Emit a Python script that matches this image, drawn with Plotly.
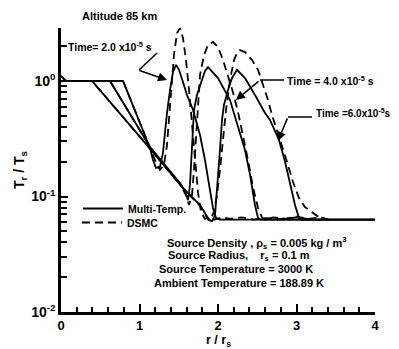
import math
import plotly.graph_objects as go

# ---------------- data ----------------
# Multi-Temperature model, t = 2.0e-5 s
mt2_r = [0.0, 0.79, 1.134, 1.172, 1.21, 1.261, 1.299, 1.325, 1.35, 1.389, 1.427, 1.465,
         1.503, 1.554, 1.605, 1.682, 1.771, 1.834, 1.898, 1.936, 1.975, 2.025, 4.0]
mt2_T = [1.0, 1.0, 0.263, 0.207, 0.177, 0.18, 0.24, 0.36, 0.528, 0.836, 1.20, 1.38,
         1.25, 0.98, 0.757, 0.561, 0.341, 0.207, 0.114, 0.0795, 0.0651, 0.063, 0.063]

# Multi-Temperature model, t = 4.0e-5 s
mt4_r = [0.0, 0.624, 1.134, 1.516, 1.58, 1.618, 1.643, 1.669, 1.694, 1.732, 1.783, 1.834,
         1.873, 2.0, 2.153, 2.229, 2.344, 2.408, 2.471, 2.51, 2.548, 4.0]
mt4_T = [1.0, 1.0, 0.268, 0.131, 0.112, 0.093, 0.126, 0.279, 0.561, 0.757, 0.98, 1.22,
         1.32, 1.06, 0.685, 0.46, 0.253, 0.154, 0.0844, 0.0651, 0.063, 0.063]

# Multi-Temperature model, t = 6.0e-5 s
mt6_r = [0.0, 0.395, 1.134, 1.554, 1.771, 1.834, 1.873, 1.924, 1.962, 2.0, 2.025, 2.051,
         2.076, 2.127, 2.178, 2.242, 2.344, 2.471, 2.599, 2.662, 2.777, 2.854, 2.917,
         2.981, 3.032, 3.07, 4.0]
mt6_T = [1.0, 1.0, 0.26, 0.118, 0.0844, 0.072, 0.063, 0.0613, 0.069, 0.139, 0.253, 0.46,
         0.62, 0.836, 1.06, 1.25, 1.06, 0.757, 0.528, 0.46, 0.309, 0.20, 0.126,
         0.0844, 0.0651, 0.063, 0.063]

# DSMC, t = 2.0e-5 s
ds2_r = [0.0, 0.064, 0.79, 1.134, 1.197, 1.261, 1.312, 1.35, 1.376, 1.401, 1.439, 1.478,
         1.516, 1.554, 1.592, 1.631, 1.669, 1.707, 1.745, 1.783, 1.834, 1.88, 1.95,
         2.05, 2.15, 2.3, 2.45, 2.6, 2.8, 3.0, 3.2, 3.35]
ds2_T = [1.1, 1.0, 1.0, 0.263, 0.207, 0.17, 0.187, 0.279, 0.46, 0.836, 1.68, 2.6,
         2.88, 2.36, 1.52, 0.836, 0.416, 0.207, 0.109, 0.0736, 0.064, 0.066, 0.063,
         0.066, 0.064, 0.066, 0.063, 0.065, 0.064, 0.066, 0.063, 0.063]

# DSMC, t = 4.0e-5 s
ds4_r = [0.0, 0.064, 0.624, 1.134, 1.516, 1.592, 1.631, 1.669, 1.694, 1.72, 1.745, 1.771,
         1.822, 1.873, 1.936, 2.0, 2.064, 2.127, 2.191, 2.255, 2.318, 2.382, 2.446,
         2.51, 2.561, 2.599, 2.7, 2.85, 3.0, 3.15, 3.3, 3.4]
ds4_T = [1.1, 1.0, 1.0, 0.268, 0.128, 0.103, 0.0844, 0.103, 0.17, 0.341, 0.685, 1.13,
         1.68, 2.05, 2.18, 1.97, 1.52, 1.13, 0.80, 0.54, 0.341, 0.207, 0.12,
         0.0795, 0.066, 0.063, 0.066, 0.064, 0.067, 0.064, 0.066, 0.063]

# DSMC, t = 6.0e-5 s
ds6_r = [0.0, 0.064, 0.395, 1.134, 1.554, 1.771, 1.847, 1.898, 1.949, 1.987, 2.025, 2.064,
         2.102, 2.153, 2.204, 2.242, 2.28, 2.344, 2.433, 2.51, 2.573, 2.637, 2.688,
         2.752, 2.815, 2.879, 2.955, 3.032, 3.108, 3.185, 3.261, 3.338, 3.389, 3.42]
ds6_T = [1.1, 1.0, 1.0, 0.26, 0.118, 0.083, 0.069, 0.0617, 0.074, 0.103, 0.17, 0.309,
         0.561, 1.02, 1.52, 1.75, 1.85, 1.78, 1.52, 1.25, 0.923, 0.685, 0.508,
         0.377, 0.279, 0.20, 0.134, 0.097, 0.081, 0.0736, 0.068, 0.0651, 0.063, 0.063]

y_major_vals = [0.01, 0.1, 1.0]
y_major_text = ["10<sup>-2</sup>", "10<sup>-1</sup>", "10<sup>0</sup>"]
y_minor_vals = [0.02, 0.03, 0.04, 0.05, 0.06, 0.07, 0.08, 0.09,
                0.2, 0.3, 0.4, 0.5, 0.6, 0.7, 0.8, 0.9, 2.0]
x_tick_vals = [0, 1, 2, 3, 4]

# ---------------- figure ----------------
FONT = "Liberation Sans, Arial, Helvetica, sans-serif"
solid = dict(color="black", width=1.8)
dashed = dict(color="black", width=1.8, dash="8px,5px")

fig = go.Figure()
for i, (r, T) in enumerate([(mt2_r, mt2_T), (mt4_r, mt4_T), (mt6_r, mt6_T)]):
    fig.add_trace(go.Scatter(x=r, y=T, mode="lines", line=solid, name="Multi-Temp.",
                             showlegend=(i == 0), legend="legend"))
for i, (r, T) in enumerate([(ds2_r, ds2_T), (ds4_r, ds4_T), (ds6_r, ds6_T)]):
    fig.add_trace(go.Scatter(x=r, y=T, mode="lines", line=dashed, name="DSMC",
                             showlegend=(i == 0), legend="legend2"))

# the page has an 8px body margin, so the figure starts at (8, 8) in the window
OFF = 8
X0, W, YT, H = 61, 314, 28, 284  # plot-area pixels in window coordinates


def px(x):
    return (x - X0) / W


def py(y):
    return (YT + H - y) / H


def ann(text, x, y, size=10, xanchor="left", yanchor="middle"):
    fig.add_annotation(text=text, x=px(x), y=py(y), xref="paper", yref="paper",
                       xanchor=xanchor, yanchor=yanchor, showarrow=False,
                       font=dict(family=FONT, size=size, color="black", weight="bold"))


ann("Altitude 85 km", 119, 8.5, size=11, xanchor="center", yanchor="top")
ann("Time= 2.0 x10<sup>-5</sup> s", 66, 46, size=10.5)
ann("Time = 4.0 x10<sup>-5</sup> s", 285, 80, size=10.5)
ann("Time =6.0x10<sup>-5</sup>s", 314, 113, size=10)
ann("Source Density , \u03c1<sub>s</sub> = 0.005 kg / m<sup>3</sup>", 165, 243, size=11)
ann("Source Radius,\u00a0\u00a0\u00a0 r<sub>s</sub> = 0.1 m", 166, 256, size=11)
ann("Source Temperature = 3000 K", 157, 269, size=11)
ann("Ambient Temperature = 188.89 K", 152, 283, size=11)
# x-axis title
ann("r / r<sub>s</sub>", 218, 331, size=12.5, xanchor="center", yanchor="top")

# pointer lines
for (xa, ya, xb, yb) in [(157, 53, 139, 70), (260, 80, 284, 80), (288, 117, 312, 117)]:
    fig.add_shape(type="line", xref="paper", yref="paper", x0=px(xa), y0=py(ya),
                  x1=px(xb), y1=py(yb), line=dict(color="black", width=1.5))

# arrows (tip on the curve, tail offset in pixels)
for (r, T, ax, ay) in [(1.35, 1.02, -29, -10), (2.229, 0.684, 24, -20), (2.764, 0.303, 10, -24)]:
    fig.add_annotation(x=r, y=math.log10(T), xref="x", yref="y", text="", showarrow=True,
                       ax=ax, ay=ay, arrowhead=2, arrowsize=1.2, arrowwidth=1.5,
                       arrowcolor="black")

fig.update_layout(
    width=399 - OFF, height=349 - OFF,
    margin=dict(l=X0 - OFF, r=399 - (X0 + W), t=YT - OFF, b=349 - (YT + H)),
    paper_bgcolor="white", plot_bgcolor="white",
    font=dict(family=FONT, color="black"),
    legend=dict(x=px(78), y=py(194), xanchor="left", yanchor="top",
                bgcolor="rgba(0,0,0,0)", borderwidth=0, itemwidth=40,
                font=dict(family=FONT, size=10.5, color="black", weight="bold")),
    legend2=dict(x=px(77), y=py(208), xanchor="left", yanchor="top",
                 bgcolor="rgba(0,0,0,0)", borderwidth=0, itemwidth=40,
                 font=dict(family=FONT, size=10.5, color="black", weight="bold")),
)

fig.update_xaxes(
    range=[0, 4], showgrid=False, zeroline=False, automargin=False,
    showline=True, linecolor="black", linewidth=2.5,
    ticks="inside", ticklen=8, tickwidth=2, tickcolor="black",
    tickvals=x_tick_vals, ticktext=[str(v) for v in x_tick_vals],
    tickfont=dict(family=FONT, size=13, color="black", weight="bold"),
    minor=dict(ticks="inside", ticklen=5, tickwidth=2, tickcolor="black", dtick=0.2),
)
fig.update_yaxes(
    type="log", range=[-2, 0.459], showgrid=False, zeroline=False, automargin=False,
    showline=True, linecolor="black", linewidth=2.5,
    ticks="inside", ticklen=7, tickwidth=2, tickcolor="black",
    tickvals=y_major_vals, ticktext=y_major_text,
    tickfont=dict(family=FONT, size=14, color="black", weight="bold"),
    minor=dict(ticks="inside", ticklen=6, tickwidth=2, tickcolor="black",
               tickvals=y_minor_vals),
    title=dict(text="T<sub>r</sub> / T<sub>s</sub>", standoff=4,
               font=dict(family=FONT, size=14, color="black", weight="bold")),
)

fig.write_html("out.html")
